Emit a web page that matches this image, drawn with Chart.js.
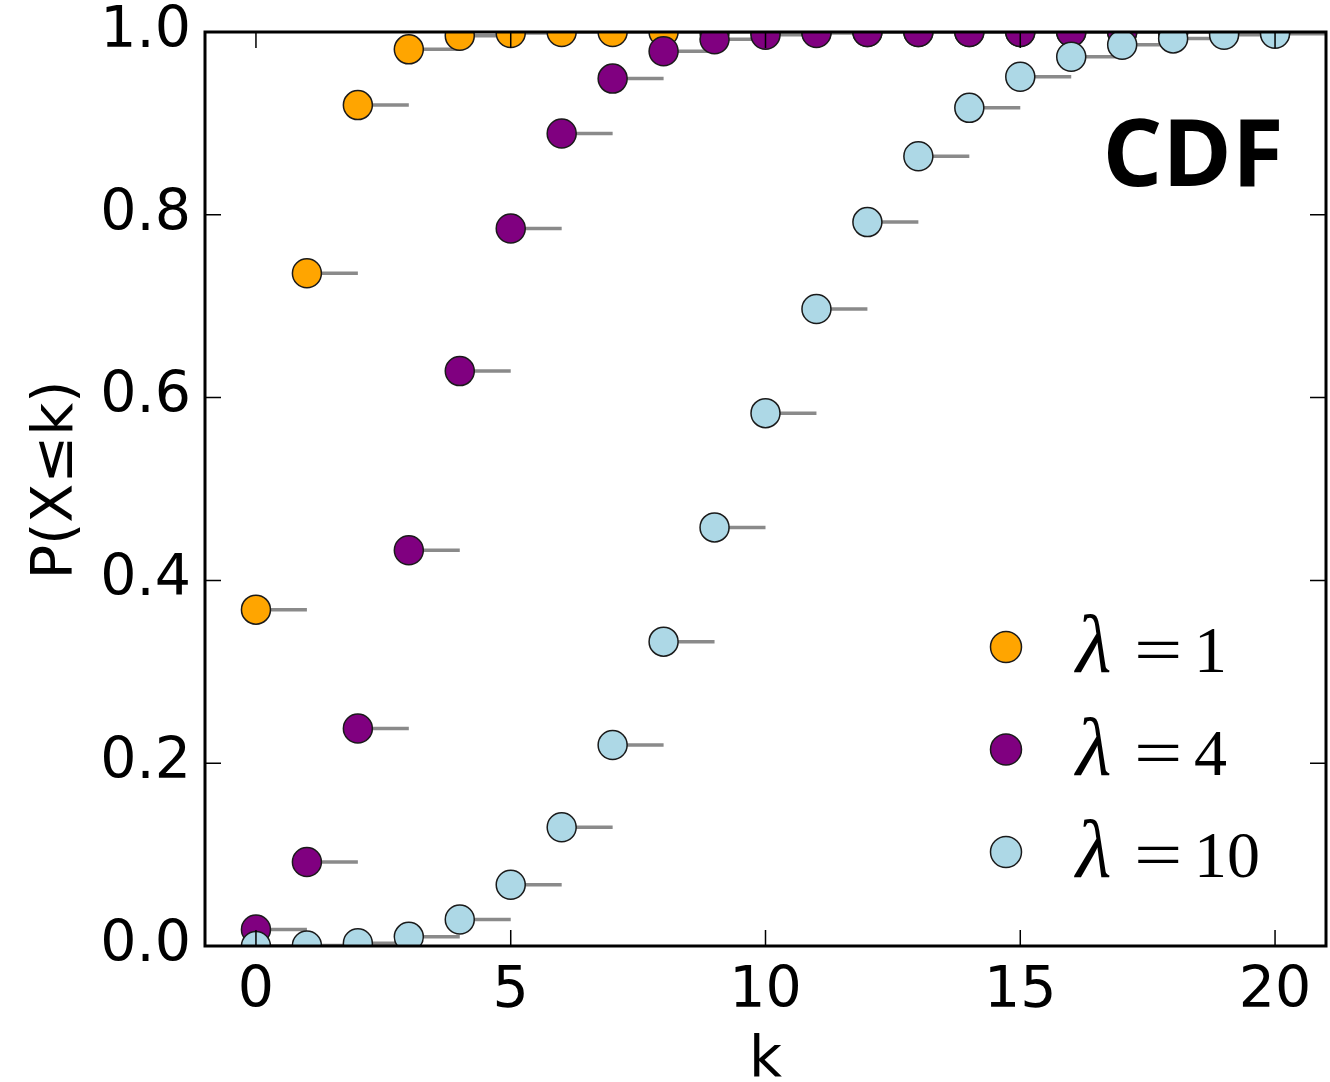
<!DOCTYPE html>
<html lang="en">
<head>
    <meta charset="UTF-8">
    <title>Poisson CDF</title>
    <script src="https://cdn.jsdelivr.net/npm/chart.js@4.4.1/dist/chart.umd.min.js"></script>
    <style>
        html, body { margin: 0; padding: 0; background: #fff; overflow: hidden; }
        #wrap { width: 1330px; height: 1082px; position: relative; }
        canvas { display: block; }
    </style>
</head>
<body>
    <div id="wrap"><canvas id="cdfChart"></canvas></div>

    <script>
        // values
        var kValues = [0, 1, 2, 3, 4, 5, 6, 7, 8, 9, 10, 11, 12, 13, 14, 15, 16, 17, 18, 19, 20];
        var cdfLambda1 = [0.368, 0.736, 0.920, 0.981, 0.996, 0.999, 1.0, 1.0, 1.0, 1.0, 1.0,
                          1.0, 1.0, 1.0, 1.0, 1.0, 1.0, 1.0, 1.0, 1.0, 1.0];
        var cdfLambda4 = [0.018, 0.092, 0.238, 0.433, 0.629, 0.785, 0.889, 0.949, 0.979, 0.992, 0.997,
                          0.999, 1.0, 1.0, 1.0, 1.0, 1.0, 1.0, 1.0, 1.0, 1.0];
        var cdfLambda10 = [0.000, 0.0005, 0.003, 0.010, 0.029, 0.067, 0.130, 0.220, 0.333, 0.458, 0.583,
                           0.697, 0.792, 0.864, 0.917, 0.951, 0.973, 0.986, 0.993, 0.997, 0.998];
        var lambdas = [1, 4, 10];
        var colors = ['#ffa500', '#800080', '#add8e6'];
        var xTickVals = [0, 5, 10, 15, 20];
        var yTickVals = [0, 0.2, 0.4, 0.6, 0.8, 1.0];

        var allSeries = [cdfLambda1, cdfLambda4, cdfLambda10];

        function pts(vals) {
            return kValues.map(function(k, i) { return { x: k, y: vals[i] }; });
        }
        // horizontal step from k to k+1, broken between steps
        function steps(vals) {
            var out = [];
            kValues.forEach(function(k, i) {
                out.push({ x: k, y: vals[i] });
                out.push({ x: k + 1, y: vals[i] });
                out.push({ x: k + 1, y: null });
            });
            return out;
        }

        var datasets = [];
        allSeries.forEach(function(vals, i) {
            datasets.push({
                label: 'steps' + i,
                data: steps(vals),
                showLine: true,
                spanGaps: false,
                borderColor: '#8a8a8a',
                borderWidth: 3.5,
                pointRadius: 0,
                clip: 0,
                order: 10
            });
        });
        allSeries.forEach(function(vals, i) {
            datasets.push({
                label: 'λ=' + lambdas[i],
                data: pts(vals),
                backgroundColor: colors[i],
                borderColor: '#1a1a1a',
                borderWidth: 1.5,
                pointRadius: 14.5,
                clip: 0,
                order: 5 - i
            });
        });

        // inward ticks on all four sides plus the frame
        var frameTicks = {
            id: 'frameTicks',
            afterDatasetsDraw: function(chart) {
                var c = chart.ctx, a = chart.chartArea;
                var xs = chart.scales.x, ys = chart.scales.y;
                c.save();
                c.strokeStyle = '#000';
                c.lineWidth = 1.5;
                c.beginPath();
                xTickVals.forEach(function(v) {
                    var px = xs.getPixelForValue(v);
                    c.moveTo(px, a.bottom); c.lineTo(px, a.bottom - 16);
                    c.moveTo(px, a.top); c.lineTo(px, a.top + 16);
                });
                yTickVals.forEach(function(v) {
                    var py = ys.getPixelForValue(v);
                    c.moveTo(a.left, py); c.lineTo(a.left + 16, py);
                    c.moveTo(a.right, py); c.lineTo(a.right - 16, py);
                });
                c.stroke();
                c.lineWidth = 3;
                c.strokeRect(a.left, a.top, a.right - a.left, a.bottom - a.top);
                c.restore();
            }
        };

        var legendAndLabel = {
            id: 'legendAndLabel',
            afterDraw: function(chart) {
                var c = chart.ctx;
                c.save();
                c.fillStyle = '#000';
                c.textBaseline = 'alphabetic';
                c.textAlign = 'center';
                c.font = 'bold 94px "Open Sans"';
                c.fillText('CDF', 1193, 186);

                lambdas.forEach(function(l, i) {
                    var cy = 647 + i * 102.5;
                    c.beginPath();
                    c.arc(1006, cy, 15.5, 0, Math.PI * 2);
                    c.fillStyle = colors[i];
                    c.fill();
                    c.lineWidth = 1.5;
                    c.strokeStyle = '#1a1a1a';
                    c.stroke();
                    c.fillStyle = '#000';
                    c.textAlign = 'left';
                    c.font = 'italic 82px "Liberation Serif"';
                    c.fillText('λ', 1076, cy + 25);
                    c.font = '66px "Liberation Serif"';
                    c.save();
                    c.translate(1134, cy + 25);
                    c.scale(1.3, 1);
                    c.fillText('=', 0, 0);
                    c.restore();
                    c.fillText(String(l), 1194, cy + 25);
                });
                c.restore();
            }
        };

        var ctx = document.getElementById('cdfChart').getContext('2d');
        var cdfChart = new Chart(ctx, {
            type: 'scatter',
            data: { datasets: datasets },
            options: {
                responsive: true,
                maintainAspectRatio: false,
                animation: false,
                events: [],
                layout: { autoPadding: false, padding: { left: 0, right: 4, top: 32, bottom: 0 } },
                plugins: {
                    legend: { display: false },
                    tooltip: { enabled: false }
                },
                scales: {
                    x: {
                        type: 'linear',
                        min: -1,
                        max: 21,
                        afterBuildTicks: function(s) { s.ticks = xTickVals.map(function(v) { return { value: v }; }); },
                        afterFit: function(s) {
                            s.height = 136;
                            s.paddingLeft = 0;
                            s.paddingRight = 0;
                        },
                        grid: { display: false, drawTicks: false },
                        border: { display: false },
                        ticks: {
                            color: '#000',
                            padding: 12,
                            font: { family: 'DejaVu Sans', size: 57 }
                        },
                        title: {
                            display: true,
                            text: 'k',
                            color: '#000',
                            font: { family: 'DejaVu Sans', size: 57, lineHeight: 0.72 },
                            padding: { top: 0, bottom: 0 }
                        }
                    },
                    y: {
                        type: 'linear',
                        min: 0,
                        max: 1,
                        afterBuildTicks: function(s) { s.ticks = yTickVals.map(function(v) { return { value: v }; }); },
                        afterFit: function(s) {
                            s.width = 205;
                            s.paddingTop = 0;
                            s.paddingBottom = 0;
                        },
                        grid: { display: false, drawTicks: false },
                        border: { display: false },
                        ticks: {
                            color: '#000',
                            padding: 14,
                            font: { family: 'DejaVu Sans', size: 57 },
                            callback: function(v) { return v.toFixed(1); }
                        },
                        title: {
                            display: true,
                            text: ' P(X≤k)',
                            color: '#000',
                            font: { family: 'DejaVu Sans', size: 57, lineHeight: 1 },
                            padding: { top: 29, bottom: 0 }
                        }
                    }
                }
            },
            plugins: [frameTicks, legendAndLabel]
        });
    </script>
</body>
</html>
